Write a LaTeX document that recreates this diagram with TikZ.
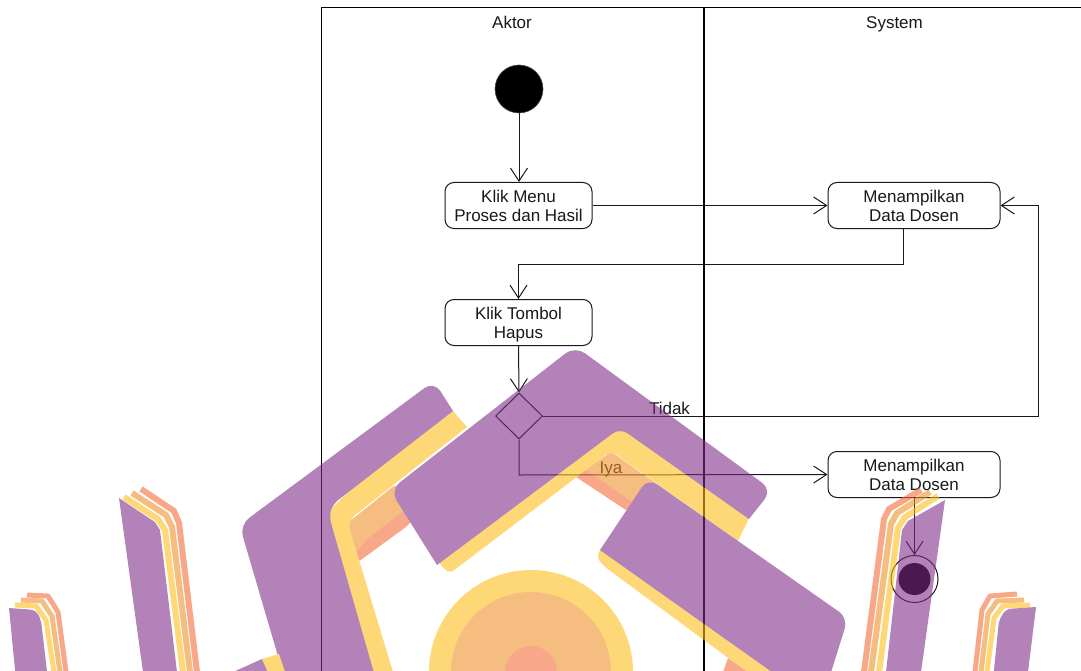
\documentclass[tikz,border=0pt]{standalone}
\usepackage{fontspec}
\setmainfont{Liberation Sans}
\usetikzlibrary{arrows.meta,shapes.geometric}
\definecolor{ink}{RGB}{25,25,25}
\definecolor{wmpurple}{RGB}{125,44,135}
\definecolor{wmyellow}{RGB}{254,188,25}
\definecolor{wmorange}{RGB}{239,144,39}
\definecolor{wmsalmon}{RGB}{244,108,56}
\tikzset{
  act/.style={draw=ink,line width=1pt,fill=white,rounded corners=9pt,minimum height=46pt,inner sep=0pt,align=center,font=\fontsize{17}{19}\selectfont,text=ink},
  flow/.style={draw=ink,line width=1pt,-{Straight Barb[length=13pt,width=17pt,line width=1pt]}},
  lane/.style={draw=black,line width=1pt},
  lab/.style={font=\fontsize{17}{19}\selectfont,text=ink,inner sep=0pt,text height=12pt,text depth=3pt},
  band/.style={line width=#1,line join=round},
}
\begin{document}
\begin{tikzpicture}[x=1pt,y=-1pt]
\useasboundingbox (0,0) rectangle (1081,671);
\clip (0,0) rectangle (1081,671);
\fill[white] (0,0) rectangle (1081,671);
% swimlanes
\coordinate (tl) at (321.5,7.5);
\coordinate (tr) at (1082,7.5);
\coordinate (bl) at (321.5,672);
\coordinate (tm) at (704,7.5);
\coordinate (bm) at (704,672);
\draw[lane] (bl) -- (tl) -- (tr);
\draw[lane,line width=2pt] (tm) -- (bm);
\node[lab] (aktor) at (512,24) {Aktor};
\node[lab] (system) at (894.5,24) {System};
% nodes
\node[circle,fill=black,draw=black!70,line width=.6pt,minimum size=48pt,inner sep=0pt] (start) at (519,89) {};
\node[act,minimum width=147pt] (klik1) at (518.5,205.5) {Klik Menu\\Proses dan Hasil};
\node[act,minimum width=172pt] (data1) at (914,205.5) {Menampilkan\\Data Dosen};
\node[act,minimum width=147pt] (klik2) at (518.5,322.5) {Klik Tombol\\\smash{Hapus}};
\node[diamond,draw=ink,line width=1pt,minimum width=47pt,minimum height=46pt,inner sep=0pt] (dec) at (519,416) {};
\node[act,minimum width=172pt] (data2) at (914,474.5) {Menampilkan\\Data Dosen};
\node[circle,draw=ink,line width=1pt,minimum size=47pt,inner sep=0pt] (end) at (914.5,579) {};
\node[circle,fill=black,minimum size=32pt,inner sep=0pt] (endin) at (end.center) {};
% connectors
\draw[flow] (start.south) -- (start.south |- klik1.north);
\draw[flow] (klik1.east) -- (data1.west);
\coordinate (c1a) at (903,264);
\draw[flow] (data1.south -| c1a) -- (c1a) -- (c1a -| klik2.north) -- (klik2.north);
\draw[flow] (klik2.south) -- (dec.north);
\coordinate (c2) at (1038.5,416);
\draw[flow] (dec.east) -- (c2) -- (c2 |- data1.east) -- (data1.east);
\coordinate (c3) at (519,475);
\draw[flow] (dec.south) -- (c3) -- (data2.west);
\draw[flow] (data2.south -| end.north) -- (end.north);
\node[lab] (tidak) at (669.5,410) {Tidak};
\node[lab] (iya) at (611,469) {Iya};
% watermark
\begin{scope}[transparency group,opacity=.59]
 % centre disc
 \fill[wmyellow] (531,672) circle (102);
 \fill[wmorange] (531,672) circle (80);
 \fill[wmsalmon] (531,672) circle (26);
 % inner bands under left block
 \fill[wmsalmon,rounded corners=3pt] (350,548) -- (401,508) -- (420,512) -- (406,527) -- (358,562) -- cycle;
 \fill[wmorange,rounded corners=3pt] (345,525) -- (395,485) -- (420,495) -- (401,513) -- (368,538) -- (356,553) -- (345,550) -- cycle;
 % left block yellow
 \fill[wmyellow] (440,400) -- (453,411) -- (467,427) [rounded corners=6pt] -- (350,519) -- (349,527) [sharp corners] -- (393,672) -- (370,672) -- (320,520) -- cycle;
 % left block purple
 \fill[wmpurple] (453,411) [rounded corners=7pt] -- (333,504) -- (329,516) [sharp corners] -- (376,680) -- (285,680) [rounded corners=12pt] -- (239.5,525) -- (434,381) [sharp corners] -- cycle;
 % bottom-left fragment
 \fill[wmpurple] (233,672) -- (262,659) -- (268,672) -- cycle;
 \fill[wmyellow] (262,659) -- (279,654) -- (285,672) -- (268,672) -- cycle;
 % inner chevron bands
 \fill[wmsalmon] (576,477) -- (611,452) -- (665,490) -- (626,510) -- cycle;
 \fill[wmorange] (586,470) -- (611,452) -- (665,490) -- (634,503) -- cycle;
 % chevron yellow
 \fill[wmyellow] [rounded corners=6pt] (430,552) -- (449,574) -- (611,451) [sharp corners] -- (738,541) -- (752,512) -- (620,420) -- cycle;
 % chevron purple
 \fill[wmpurple] (437,565) [rounded corners=12pt] -- (390,490) -- (575,346) -- (772,490) [sharp corners] -- (749,519) [rounded corners=9pt] -- (620,428) [sharp corners] -- cycle;
 % right block
 \fill[wmsalmon] (723,672) -- (728,658) -- (748,672) -- cycle;
 \fill[wmyellow] (605,545) -- (600,550) [rounded corners=4pt] -- (597,558) -- (605,567) [sharp corners] -- (727,657) -- (748,672) -- (775,672) -- cycle;
 \fill[wmpurple] (600,550) [rounded corners=11pt] -- (648,478) -- (848,618) -- (828,682) [sharp corners] -- (786,682) -- cycle;
 % left strips
 \draw[wmsalmon,band=5pt] (27,595) -- (48,596) -- (58,612) -- (66,672);
 \draw[wmorange,band=5pt] (21,600) -- (42,601) -- (52,616) -- (60,672);
 \draw[wmyellow,band=5pt] (15,605) -- (36,606) -- (46,620) -- (54,672);
 \fill[wmpurple] (9,608) [rounded corners=5pt] -- (36,610) -- (41,620) [sharp corners] -- (48,680) -- (16,680) -- cycle;
 \draw[wmsalmon,band=6pt] (141,489) -- (174,511) -- (179,523) -- (197,672);
 \draw[wmorange,band=6pt] (132,493) -- (166,515) -- (172,527) -- (190,672);
 \draw[wmyellow,band=6pt] (124,497) -- (158,519) -- (165,530) -- (183,672);
 \fill[wmpurple] (119,498) -- (155,522) -- (160,530) -- (177,672) -- (143,672) -- cycle;
 % right strips
 \draw[wmsalmon,band=6pt] (921,490) -- (889,509) -- (884,519) -- (864,672);
 \draw[wmorange,band=6pt] (930,492) -- (897,513) -- (891,524) -- (871,672);
 \draw[wmyellow,band=6pt] (938,496) -- (905,517) -- (898,528) -- (879,672);
 \fill[wmpurple] (945,500) -- (908,521) -- (902,530) -- (886,672) -- (921,672) -- cycle;
 \draw[wmsalmon,band=5pt] (1017,594) -- (990,596) -- (982,610) -- (975,672);
 \draw[wmorange,band=5pt] (1024,600) -- (997,601) -- (988,614) -- (981,672);
 \draw[wmyellow,band=5pt] (1030,605) -- (1003,606) -- (994,618) -- (987,672);
 \fill[wmpurple] (1036,607) [rounded corners=5pt] -- (1006,609) -- (999,620) [sharp corners] -- (993,680) -- (1027,680) -- cycle;
\end{scope}
\end{tikzpicture}
\end{document}
